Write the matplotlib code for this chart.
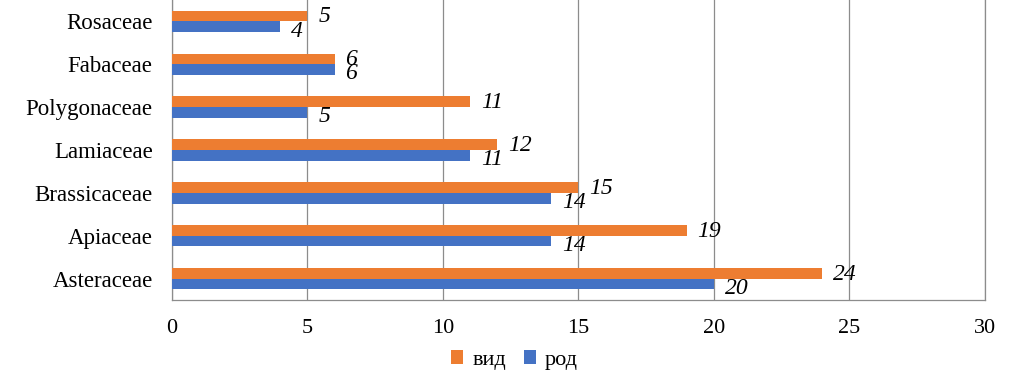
import matplotlib.pyplot as plt
import numpy as np

plt.rcParams['font.family'] = ['Liberation Serif', 'DejaVu Serif']

families = ["Asteraceae", "Apiaceae", "Brassicaceae", "Lamiaceae",
            "Polygonaceae", "Fabaceae", "Rosaceae"]
species = [24, 19, 15, 12, 11, 6, 5]   # вид
genera = [20, 14, 14, 11, 5, 6, 4]     # род
x_ticks = [0, 5, 10, 15, 20, 25, 30]

orange = "#ED7D31"
blue = "#4472C4"

fig = plt.figure(figsize=(10.09, 3.79), dpi=100)
ax = fig.add_axes([0.1705, 0.2084, 0.8055, 0.7916])

y = np.arange(len(families))
h = 0.25
ax.barh(y + h / 2, species, height=h, color=orange, label="вид", zorder=3)
ax.barh(y - h / 2, genera, height=h, color=blue, label="род", zorder=3)

for yi, v in zip(y, species):
    ax.text(v + 0.4, yi + h / 2 - 0.02, str(v), style="italic", fontsize=17,
            va="center", ha="left", zorder=4)
for yi, v in zip(y, genera):
    ax.text(v + 0.4, yi - h / 2 - 0.1, str(v), style="italic", fontsize=17,
            va="center", ha="left", zorder=4)

ax.set_xlim(0, 30)
ax.set_ylim(-0.5, len(families) - 0.5)
ax.set_xticks(x_ticks)
ax.set_yticks(y)
ax.set_yticklabels(families, fontsize=16.5)
ax.tick_params(axis="x", length=0, pad=14, labelsize=16)
ax.tick_params(axis="y", length=0, pad=14)
ax.xaxis.grid(True, color="#8c8c8c", linewidth=0.9, zorder=0)

for s in ["left", "right", "bottom"]:
    ax.spines[s].set_color("#8c8c8c")
    ax.spines[s].set_linewidth(0.9)
ax.spines["top"].set_visible(False)

fig.legend(loc="center", bbox_to_anchor=(0.51, 0.05), ncol=2, frameon=False,
           fontsize=16, handlelength=0.55, handleheight=0.55, handletextpad=0.4,
           columnspacing=0.8)

fig.savefig("out.png", dpi=100)
